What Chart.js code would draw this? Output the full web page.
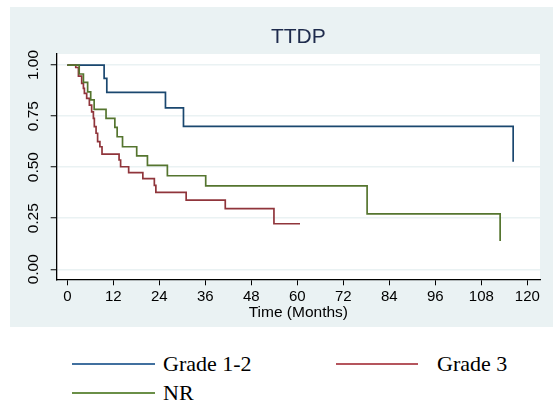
<!DOCTYPE html>
<html>
<head>
<meta charset="utf-8">
<script src="https://cdn.jsdelivr.net/npm/chart.js@4.4.0/dist/chart.umd.min.js"></script>
<style>
  html, body { margin: 0; padding: 0; background: #ffffff; }
  body { width: 553px; height: 406px; position: relative; overflow: hidden; }
  #box { position: absolute; left: 10px; top: 7px; width: 543px; height: 320px; background: #eaf2f3; }
  .legText { position: absolute; font-family: "Liberation Serif", "Times New Roman", serif; font-size: 22px; color: #000; line-height: 24px; white-space: nowrap; }
  .legLine { position: absolute; height: 2px; }
</style>
</head>
<body>
<div id="box"><canvas id="kmChart"></canvas></div>
<div id="legend"></div>
<script>
// series names
var seriesNames = ['Grade 1-2', 'Grade 3', 'NR'];

// Kaplan-Meier steps (months, survival)
var grade12Time = [0, 9.6, 10.3, 25.6, 30.3, 116.3];
var grade12Surv = [1, 0.935, 0.866, 0.79, 0.70, 0.527];

var grade3Time = [0, 2.2, 2.9, 3.75, 4.2, 4.45, 5.05, 5.75, 6.35, 6.8, 7.05, 7.5, 7.9, 8.5, 9.05, 13.5, 13.9, 16.0, 19.7, 22.7, 23.1, 31.0, 41.2, 53.9, 60.7];
var grade3Surv = [1, 0.988, 0.946, 0.910, 0.886, 0.861, 0.837, 0.804, 0.771, 0.739, 0.698, 0.666, 0.625, 0.600, 0.564, 0.535, 0.502, 0.473, 0.444, 0.411, 0.377, 0.339, 0.297, 0.223, 0.223];

var nrTime = [0, 3.1, 4.2, 5.3, 6.1, 7.0, 10.1, 12.4, 13.0, 14.4, 18.1, 20.9, 26.1, 36.1, 78.2, 112.9];
var nrSurv = [1, 0.956, 0.915, 0.869, 0.829, 0.783, 0.739, 0.695, 0.649, 0.600, 0.555, 0.509, 0.458, 0.408, 0.271, 0.139];

// axis ticks
var xTicks = [0, 12, 24, 36, 48, 60, 72, 84, 96, 108, 120];
var yTicks = [0, 0.25, 0.5, 0.75, 1];

var lineColors = ['#1a476f', '#90353b', '#55752f'];
var legendColors = ['#41709f', '#b5555d', '#6a8f47'];

function toPoints(times, surv)
{
  var pts = [];
  for (var i = 0; i < times.length; i++) {
    pts.push({ x: times[i], y: surv[i] });
  }
  return pts;
}

// white plot region on the grey graph region
var plotBg = {
  id: 'plotBg',
  beforeDraw: function(chart) {
    var ctx = chart.ctx, a = chart.chartArea;
    ctx.save();
    ctx.fillStyle = '#ffffff';
    ctx.fillRect(a.left, a.top, a.right - a.left, a.bottom - a.top);
    ctx.restore();
  }
};

function LoadKM(canvasName)
{
  var sets = [[grade12Time, grade12Surv], [grade3Time, grade3Surv], [nrTime, nrSurv]];
  var datasets = [];
  sets.forEach(function(s, i) {
    datasets.push({
      label: seriesNames[i],
      data: toPoints(s[0], s[1]),
      borderColor: lineColors[i],
      borderWidth: 1.7,
      pointRadius: 0,
      fill: false,
      stepped: 'before',
      order: 2 - i
    });
  });

  var tickFont = { family: 'Liberation Sans', size: 15 };

  new Chart(document.getElementById(canvasName), {
    type: 'line',
    data: { datasets: datasets },
    options: {
      responsive: true,
      maintainAspectRatio: false,
      animation: false,
      layout: { padding: { top: 17.8, right: 13, bottom: 0, left: 0 } },
      plugins: {
        legend: { display: false },
        tooltip: { enabled: false },
        title: {
          display: true,
          text: 'TTDP',
          fullSize: false,
          color: '#1e2b4c',
          font: { family: 'Liberation Sans', size: 21, weight: 'normal' },
          padding: { top: 0, bottom: 4 }
        }
      },
      scales: {
        x: {
          type: 'linear',
          min: -2.77,
          max: 123.3,
          afterBuildTicks: function(s) { s.ticks = xTicks.map(function(v) { return { value: v }; }); },
          afterFit: function(s) { s.height = 47.7; },
          grid: { drawOnChartArea: false, tickColor: '#000', tickLength: 6, tickWidth: 1 },
          border: { color: '#000', width: 1.3 },
          ticks: { autoSkip: false, maxRotation: 0, minRotation: 0, padding: 3, font: tickFont, color: '#000' },
          title: {
            display: true,
            text: 'Time (Months)',
            color: '#000',
            font: { family: 'Liberation Sans', size: 15.5 },
            padding: { top: 0, bottom: 4.7 }
          }
        },
        y: {
          type: 'linear',
          min: -0.049,
          max: 1.054,
          afterBuildTicks: function(s) { s.ticks = yTicks.map(function(v) { return { value: v }; }); },
          afterFit: function(s) { s.width = 46.7; },
          grid: { color: '#eaf2f3', lineWidth: 1.5, tickColor: '#000', tickLength: 6, tickWidth: 1 },
          border: { color: '#000', width: 1.3 },
          ticks: {
            autoSkip: false,
            minRotation: 90,
            maxRotation: 90,
            crossAlign: 'center',
            padding: 2,
            font: { family: 'Liberation Sans', size: 15.5 },
            color: '#000',
            callback: function(v) { return Number(v).toFixed(2); }
          }
        }
      }
    },
    plugins: [plotBg]
  });
}

function LoadLegend(divName)
{
  // line left, line width, text left, row centre
  var spots = [[72, 83, 163, 364], [336, 82, 437, 364], [72, 83, 163, 393]];
  var box = document.getElementById(divName);
  seriesNames.forEach(function(name, i) {
    var p = spots[i];
    var ln = document.createElement('div');
    ln.className = 'legLine';
    ln.style.left = p[0] + 'px';
    ln.style.width = p[1] + 'px';
    ln.style.top = (p[3] - 1) + 'px';
    ln.style.background = legendColors[i];
    box.appendChild(ln);
    var tx = document.createElement('div');
    tx.className = 'legText';
    tx.style.left = p[2] + 'px';
    tx.style.top = (p[3] - 12) + 'px';
    tx.textContent = name;
    box.appendChild(tx);
  });
}

LoadKM('kmChart');
LoadLegend('legend');
</script>
</body>
</html>
